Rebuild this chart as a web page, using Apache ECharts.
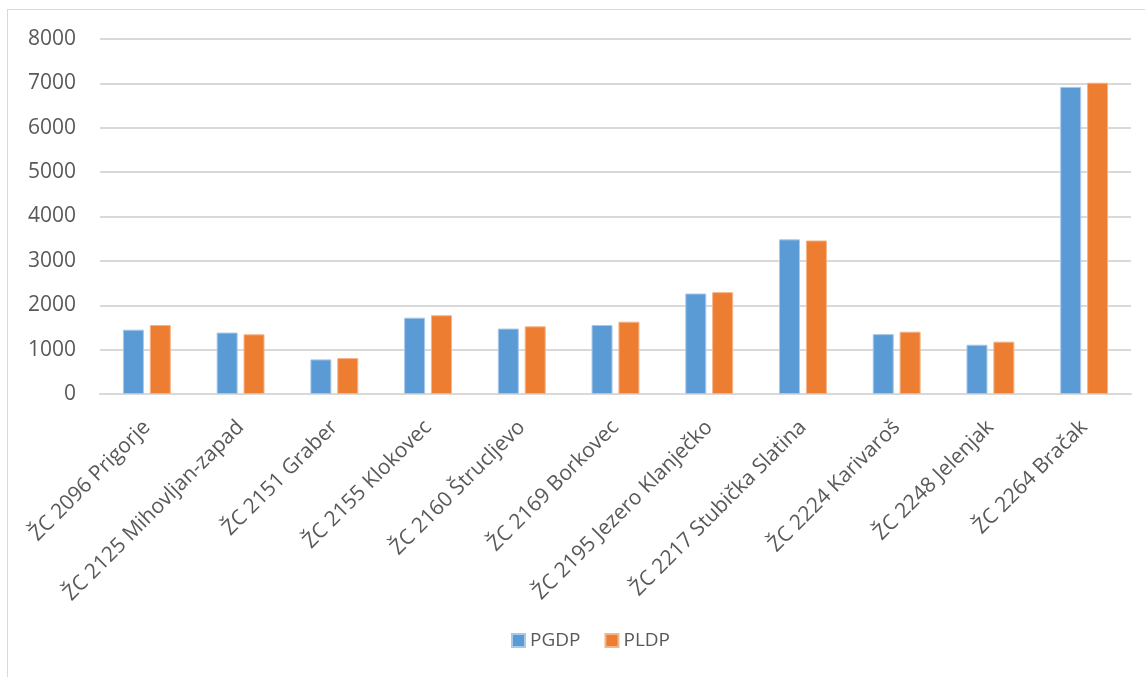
<!DOCTYPE html>
<html>
<head>
<meta charset="utf-8">
<script src="https://cdn.jsdelivr.net/npm/echarts@6/dist/echarts.min.js"></script>
<style>
  html, body { margin: 0; padding: 0; background: #fff; }
  #chart { width: 1145px; height: 677px; }
</style>
</head>
<body>
<div id="chart"></div>
<script>
const categories = [
  'ŽC 2096 Prigorje',
  'ŽC 2125 Mihovljan-zapad',
  'ŽC 2151 Graber',
  'ŽC 2155 Klokovec',
  'ŽC 2160 Štrucljevo',
  'ŽC 2169 Borkovec',
  'ŽC 2195 Jezero Klanječko',
  'ŽC 2217 Stubička Slatina',
  'ŽC 2224 Karivaroš',
  'ŽC 2248 Jelenjak',
  'ŽC 2264 Bračak'
]
const pgdp = [1450, 1385, 780, 1720, 1475, 1555, 2265, 3485, 1350, 1110, 6920]
const pldp = [1555, 1345, 810, 1775, 1525, 1630, 2295, 3460, 1405, 1180, 7015]
const yTicks = [0, 1000, 2000, 3000, 4000, 5000, 6000, 7000, 8000]

const font = '"Open Sans", "DejaVu Sans", sans-serif'
const textColor = '#595959'
const lineColor = '#d9d9d9'

const chart = echarts.init(document.getElementById('chart'))

function bar(name, data, color, edge) {
  return {
    name: name,
    type: 'bar',
    data: data,
    barWidth: 21,
    barGap: '28%',
    itemStyle: { color: color, borderColor: edge, borderWidth: 1 }
  }
}

chart.setOption({
  animation: false,
  textStyle: { fontFamily: font },
  graphic: [
    { type: 'line', shape: { x1: 8, y1: 9.5, x2: 1145, y2: 9.5 }, style: { stroke: lineColor, lineWidth: 1 } },
    { type: 'line', shape: { x1: 7.5, y1: 9, x2: 7.5, y2: 677 }, style: { stroke: lineColor, lineWidth: 1 } }
  ],
  grid: { left: 100, right: 14, top: 39, bottom: 283, containLabel: false },
  legend: {
    bottom: 22,
    left: 506,
    itemWidth: 13,
    itemHeight: 13,
    itemGap: 24,
    icon: 'rect',
    textStyle: { fontSize: 19, color: textColor, fontFamily: font },
    data: ['PGDP', 'PLDP']
  },
  xAxis: {
    type: 'category',
    data: categories,
    axisLine: { lineStyle: { color: lineColor, width: 2 } },
    axisTick: { show: false },
    axisLabel: {
      rotate: 45,
      interval: 0,
      margin: 30,
      fontSize: 21,
      color: textColor,
      fontFamily: font
    }
  },
  yAxis: {
    type: 'value',
    min: yTicks[0],
    max: yTicks[yTicks.length - 1],
    interval: 1000,
    axisLine: { show: false },
    axisTick: { show: false },
    splitLine: { lineStyle: { color: lineColor, width: 2 } },
    axisLabel: {
      fontSize: 21,
      color: textColor,
      margin: 24,
      fontFamily: font,
      formatter: v => String(v)
    }
  },
  series: [
    bar('PGDP', pgdp, '#5b9bd5', '#a9c9ea'),
    bar('PLDP', pldp, '#ed7d31', '#f5b58a')
  ]
})
</script>
</body>
</html>
